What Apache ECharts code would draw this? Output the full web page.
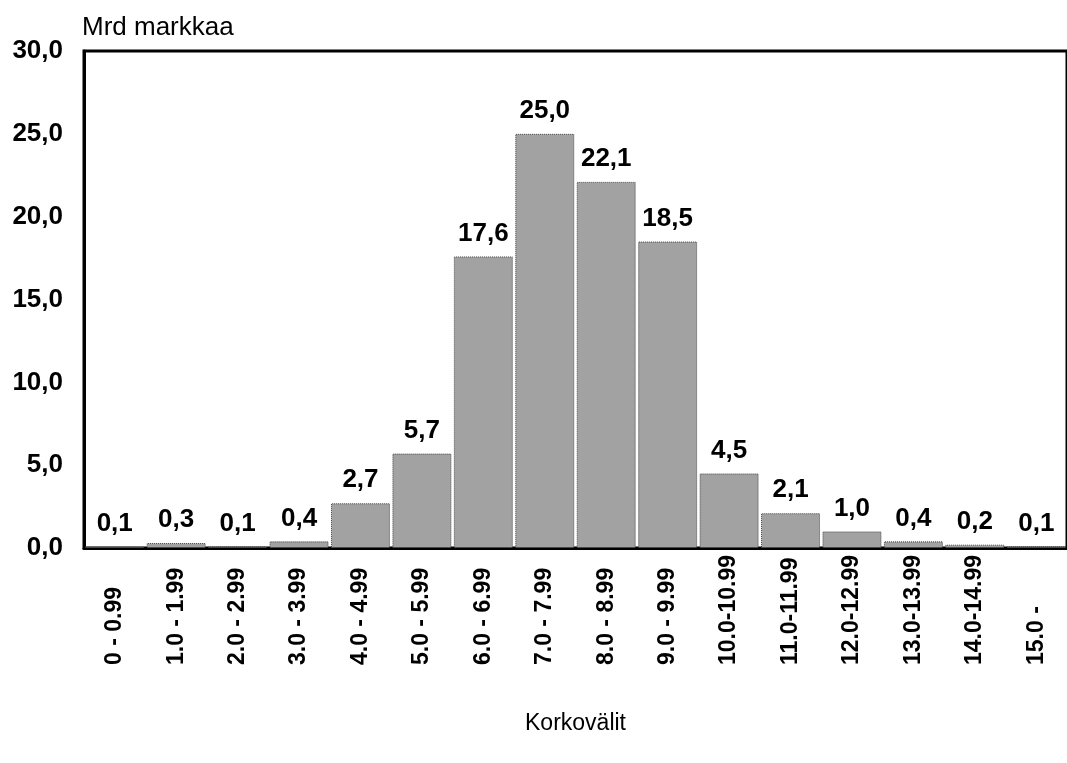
<!DOCTYPE html>
<html><head><meta charset="utf-8">
<script src="https://cdn.jsdelivr.net/npm/echarts@6/dist/echarts.min.js"></script>
<style>html,body{margin:0;padding:0;background:#fff}#c{width:1067px;height:763px}</style>
</head><body><div id="c"></div>
<script>
var categories = ["0 - 0.99","1.0 - 1.99","2.0 - 2.99","3.0 - 3.99","4.0 - 4.99","5.0 - 5.99","6.0 - 6.99","7.0 - 7.99","8.0 - 8.99","9.0 - 9.99","10.0-10.99","11.0-11.99","12.0-12.99","13.0-13.99","14.0-14.99","15.0 -"];
var values = [0.1,0.3,0.1,0.4,2.7,5.7,17.6,25.0,22.1,18.5,4.5,2.1,1.0,0.4,0.2,0.1];
var yTicks = [0,5,10,15,20,25,30];
var fmt = function(v){ return Number(v).toFixed(1).replace('.', ','); };
var FF = '"Liberation Sans", Arial, Helvetica, sans-serif';
var chart = echarts.init(document.getElementById('c'));
chart.setOption({
  animation: false,
  backgroundColor: '#fff',
  grid: { left: 84, top: 51, bottom: 215, right: -4, show: true, borderColor: '#000', borderWidth: 3, backgroundColor: 'transparent' },
  xAxis: {
    type: 'category', data: categories,
    axisLine: { lineStyle: { color: '#000', width: 3 } },
    axisTick: { show: false },
    axisLabel: {
      rotate: 90, margin: 14, interval: 0,
      formatter: function(v){ return '{a|' + v + '}'; },
      rich: { a: { width: 103, align: 'left', fontFamily: FF, fontWeight: 'bold', fontSize: 23, color: '#000' } }
    },
    name: 'Korkovälit', nameLocation: 'middle', nameGap: 164,
    nameTextStyle: { fontFamily: FF, fontSize: 23, color: '#000' }
  },
  yAxis: {
    type: 'value', min: 0, max: 30, interval: 5,
    axisLine: { show: true, lineStyle: { color: '#000', width: 3 } },
    axisTick: { show: false },
    splitLine: { show: false },
    axisLabel: { formatter: function(v){ return yTicks.indexOf(v) >= 0 ? fmt(v) : ''; }, margin: 21, fontFamily: FF, fontWeight: 'bold', fontSize: 26, color: '#000' },
    name: 'Mrd markkaa', nameLocation: 'end', nameGap: 10,
    nameTextStyle: { fontFamily: FF, fontSize: 26, color: '#000', align: 'left', padding: [0,0,0,-2] }
  },
  series: [{
    type: 'bar', data: values, barCategoryGap: '4%',
    itemStyle: { color: '#a2a2a2', borderColor: '#444', borderWidth: 1, borderType: 'dotted' },
    label: { show: true, position: 'top', distance: 10, formatter: function(p){ return fmt(p.value); }, fontFamily: FF, fontWeight: 'bold', fontSize: 26, color: '#000' }
  }]
});
</script></body></html>
